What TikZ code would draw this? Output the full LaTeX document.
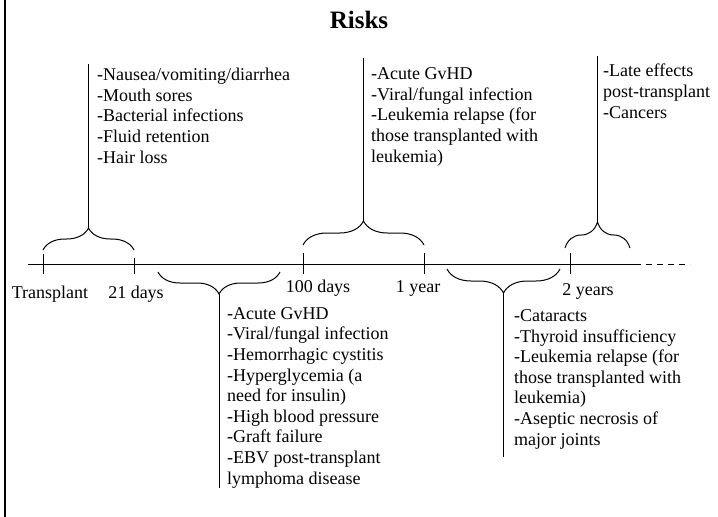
\documentclass[tikz,border=0pt]{standalone}
\usepackage{fontspec}
\setmainfont{Liberation Serif}
\usetikzlibrary{decorations.pathreplacing}
\begin{document}
\begin{tikzpicture}[x=1pt,y=-1pt,
  ln/.style={line width=1pt},
  brc/.style={line width=1pt, decorate, decoration={brace, amplitude=#1}},
  risk/.style={anchor=base west, align=left, inner sep=0pt, font=\fontsize{18}{20.6}\selectfont},
  tlabel/.style={anchor=base, inner sep=0pt, font=\fontsize{18}{20.6}\selectfont}]
\useasboundingbox (0,0) rectangle (718,517);
% left border
\draw[line width=1.5pt] (5,0) -- (5,517);
% title
\node[anchor=base, inner sep=0pt, font=\fontsize{25}{30}\selectfont\bfseries] (title) at (359,28) {Risks};
% timeline
\coordinate (tl0) at (28,264);
\coordinate (tl1) at (635,264);
\coordinate (tl2) at (690,264);
\draw[ln] (tl0) -- (tl1);
\draw[ln, dash pattern=on 6pt off 5pt] (tl1) -- (tl2);
% ticks
\coordinate (k1a) at (43,254);  \coordinate (k1b) at (43,274);
\coordinate (k2a) at (134,258); \coordinate (k2b) at (134,274);
\coordinate (k3a) at (303,253); \coordinate (k3b) at (303,274);
\coordinate (k4a) at (424,253); \coordinate (k4b) at (424,274);
\coordinate (k5a) at (570,253); \coordinate (k5b) at (570,274);
\foreach \k in {1,...,5} {\draw[ln] (k\k a) -- (k\k b);}
% tick labels
\node[tlabel] (lt) at (50,298) {Transplant};
\node[tlabel] (l21) at (136,298) {21 days};
\node[tlabel] (l100) at (318,292) {100 days};
\node[tlabel] (l1y) at (418,292) {1 year};
\node[tlabel] (l2y) at (588,295) {2 years};
% braces
\draw[brc=22pt] (43,250) -- (134,250);
\draw[brc=24pt] (303,245) -- (424,245);
\draw[brc=26pt] (565,248) -- (630,248);
\draw[brc=22pt] (280,272) -- (158,272);
\draw[brc=24pt] (560,269) -- (447,269);
% stems
\coordinate (s1a) at (88.5,228); \coordinate (s1b) at (88.5,64);
\coordinate (s2a) at (363.5,221); \coordinate (s2b) at (363.5,58);
\coordinate (s3a) at (597.5,222); \coordinate (s3b) at (597.5,56);
\coordinate (s4a) at (219,294); \coordinate (s4b) at (219,488);
\coordinate (s5a) at (503.5,293); \coordinate (s5b) at (503.5,457);
\foreach \s in {1,...,5} {\draw[ln] (s\s a) -- (s\s b);}
% texts (base anchor = last line's baseline)
\node[risk] (ra) at (97,163) {-Nausea/vomiting/diarrhea\\-Mouth sores\\-Bacterial infections\\-Fluid retention\\-Hair loss};
\node[risk] (rb) at (371,162) {-Acute GvHD\\-Viral/fungal infection\\-Leukemia relapse (for\\those transplanted with\\leukemia)};
\node[risk] (rc) at (603,118) {-Late effects\\post-transplant\\-Cancers};
\node[risk] (rd) at (227,484) {-Acute GvHD\\-Viral/fungal infection\\-Hemorrhagic cystitis\\-Hyperglycemia (a\\need for insulin)\\-High blood pressure\\-Graft failure\\-EBV post-transplant\\lymphoma disease};
\node[risk] (re) at (514,445) {-Cataracts\\-Thyroid insufficiency\\-Leukemia relapse (for\\those transplanted with\\leukemia)\\-Aseptic necrosis of\\major joints};
\end{tikzpicture}
\end{document}
